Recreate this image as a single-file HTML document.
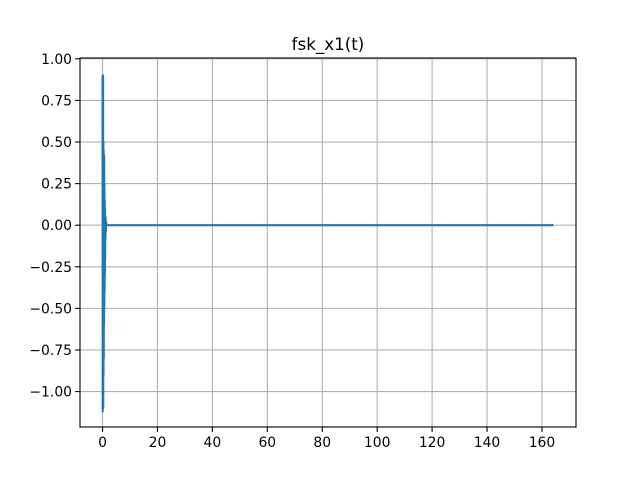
<!DOCTYPE html>
<html><head><meta charset="utf-8"><style>
body{margin:0;background:#fff;}
svg text{font-family:"DejaVu Sans","Liberation Sans",sans-serif;font-size:13.9px;fill:#000;}
</style></head><body>
<svg id="chart" width="640" height="480">
<rect width="640" height="480" fill="#fff"/>
<g id="grid"></g>
<g id="series"></g>
<rect x="80" y="58" width="496" height="369" fill="none" stroke="#000" stroke-width="1.1"/>
<g id="ticks"></g>
<text x="328" y="50" text-anchor="middle" style="font-size:16.7px">fsk_x1(t)</text>
</svg>
<script>
const xTicks=[0,20,40,60,80,100,120,140,160];
const yTicks=[1.00,0.75,0.50,0.25,0.00,-0.25,-0.50,-0.75,-1.00];
const times=[0,0.05,0.1,0.15,0.2,0.25,0.3,0.35,0.4,0.45,0.5,0.55,0.6,0.65,0.7,0.75,0.8,0.85,0.9,0.95,1.0,1.05,1.1,1.2,1.3,1.5,164.2];
const values=[0.9,-1.12,0.78,-0.95,0.9,-1.1,0.5,-0.9,0.45,-0.8,0.3,-0.6,0.42,-0.5,0.25,-0.4,0.15,-0.3,0.1,-0.2,0.05,-0.08,0.05,-0.04,0.02,0,0];
const xMin=-8.21,xMax=172.4,yMin=-1.213,yMax=1.005;
const L=80,R=576,T=58,B=427;
const sx=v=>L+(v-xMin)/(xMax-xMin)*(R-L);
const sy=v=>B-(v-yMin)/(yMax-yMin)*(B-T);
const NS="http://www.w3.org/2000/svg";
const grid=document.getElementById('grid'),ticks=document.getElementById('ticks'),series=document.getElementById('series');
function mk(tag,attrs,parent){const e=document.createElementNS(NS,tag);for(const k in attrs)e.setAttribute(k,attrs[k]);parent.appendChild(e);return e;}
xTicks.forEach(v=>{const x=sx(v);
const g=mk('line',{x1:x,x2:x,y1:T,y2:B,stroke:'#b0b0b0','stroke-width':1.1},grid);


mk('line',{x1:x,x2:x,y1:B,y2:B+4.9,stroke:'#000','stroke-width':1.1},ticks);
const t=mk('text',{x:x,y:B+20,'text-anchor':'middle'},ticks);t.textContent=v;

});
yTicks.forEach(v=>{const y=sy(v);
const g=mk('line',{x1:L,x2:R,y1:y,y2:y,stroke:'#b0b0b0','stroke-width':1.1},grid);


mk('line',{x1:L-4.9,x2:L,y1:y,y2:y,stroke:'#000','stroke-width':1.1},ticks);
const t=mk('text',{x:L-8,y:y+5,'text-anchor':'end'},ticks);
t.textContent=v<0?'\u2212'+Math.abs(v).toFixed(2):v.toFixed(2);

});
const p=mk('polyline',{points:times.map((t,i)=>sx(t)+','+sy(values[i])).join(' '),fill:'none',stroke:'#1f77b4','stroke-width':2.1,'stroke-linejoin':'round'},series);


</script>
</body></html>
